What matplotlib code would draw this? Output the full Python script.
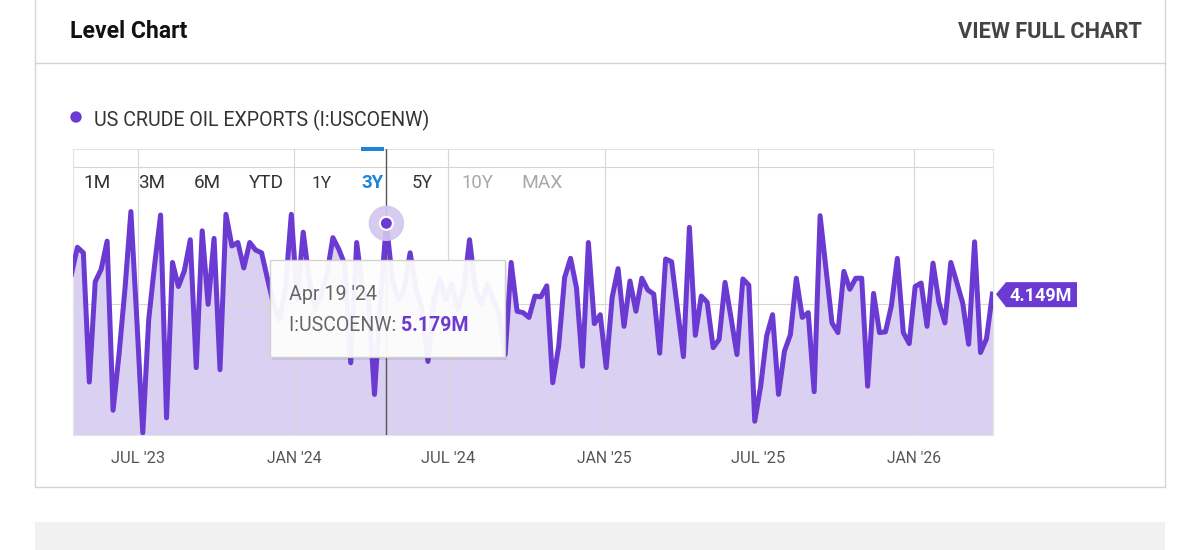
import matplotlib
matplotlib.use('Agg')
import matplotlib.pyplot as plt
import matplotlib.dates as mdates
from matplotlib import font_manager
from matplotlib.patches import Rectangle, Polygon, Ellipse
import datetime as dt

# ---------------- data ----------------
series_name = "US CRUDE OIL EXPORTS (I:USCOENW)"
series_code = "I:USCOENW"
start_date = dt.date(2023, 4, 14)          # weekly (Fridays)
values = [
    4.44, 4.83, 4.75, 2.87, 4.33, 4.51, 4.92, 2.46, 3.27, 4.22,
    5.35, 3.78, 2.13, 3.78, 4.58, 5.30, 2.35, 4.61, 4.26, 4.49,
    4.94, 3.08, 5.07, 4.00, 4.96, 3.05, 5.31, 4.85, 4.90, 4.53,
    4.90, 4.79, 4.75, 4.37, 4.00, 3.78, 4.22, 5.31, 4.07, 5.05,
    4.37, 3.93, 4.15, 4.44, 4.97, 4.80, 4.58, 3.15, 4.90, 4.22,
    4.07, 2.69, 4.07, 5.179, 4.37, 4.07, 4.22, 4.75, 4.22, 3.93,
    3.17, 4.07, 4.37, 4.07, 4.29, 3.93, 4.22, 4.94, 4.22, 4.00,
    4.29, 4.07, 3.85, 3.27, 4.61, 3.90, 3.88, 3.81, 4.12, 4.11,
    4.27, 2.86, 3.39, 4.39, 4.67, 4.24, 3.10, 4.90, 3.72, 3.85,
    3.08, 4.10, 4.52, 3.68, 4.34, 3.90, 4.38, 4.21, 4.15, 3.29,
    4.66, 4.62, 3.93, 3.24, 5.12, 3.55, 4.12, 4.03, 3.37, 3.49,
    4.32, 3.81, 3.27, 4.37, 4.28, 2.30, 2.81, 3.54, 3.85, 2.69,
    3.32, 3.56, 4.38, 3.81, 3.88, 2.73, 5.29, 4.51, 3.73, 3.59,
    4.48, 4.22, 4.38, 4.38, 2.81, 4.16, 3.59, 3.60, 3.98, 4.67,
    3.59, 3.43, 4.26, 4.31, 3.68, 4.60, 4.03, 3.73, 4.61, 4.32,
    4.02, 3.42, 4.91, 3.30, 3.50, 4.149,
]
dates = [start_date + dt.timedelta(weeks=i) for i in range(len(values))]
hover_index = 53   # Apr 19 '24
tick_dates = [dt.date(2023, 7, 1), dt.date(2024, 1, 1), dt.date(2024, 7, 1),
              dt.date(2025, 1, 1), dt.date(2025, 7, 1), dt.date(2026, 1, 1)]
tick_labels = ["JUL '23", "JAN '24", "JUL '24", "JAN '25", "JUL '25", "JAN '26"]
y_gridlines = [4, 6]
range_buttons = ["1M", "3M", "6M", "YTD", "1Y", "3Y", "5Y", "10Y", "MAX"]
active_button = "3Y"
disabled_buttons = ["10Y", "MAX"]

# ---------------- style ----------------
W, H = 1200, 550
PURPLE = '#6a3ad2'
FILL = '#dad0f1'
BLUE = '#1c84dc'
avail = {f.name for f in font_manager.fontManager.ttflist}
COND = 'Liberation Sans Narrow' if 'Liberation Sans Narrow' in avail else 'Roboto'

fig = plt.figure(figsize=(W / 100, H / 100), dpi=100)
fig.patch.set_facecolor('white')
renderer = fig.canvas.get_renderer()


def fx(x):
    return x / W


def fy(y):
    return 1 - y / H


def fit_text(x, y, s, width, ha='left', va='baseline', size0=12, **kw):
    t = fig.text(fx(x), fy(y), s, fontsize=size0, ha=ha, va=va, **kw)
    w = t.get_window_extent(renderer).width
    t.set_fontsize(size0 * width / w)
    return t


def circle(xp, yp, r, **kw):
    # xp, yp in figure pixels measured from the bottom-left
    fig.add_artist(Ellipse((xp / W, yp / H), 2 * r / W, 2 * r / H,
                           transform=fig.transFigure, **kw))


# card frame
fig.patches.append(Rectangle((fx(35), fy(487)), fx(1130), 1.02 - fy(487), transform=fig.transFigure,
                             facecolor='none', edgecolor='#d9d4cf', lw=1.0, zorder=0))
fig.add_artist(plt.Line2D([fx(35), fx(1165)], [fy(63), fy(63)], transform=fig.transFigure,
                          color='#d9d4cf', lw=1.0))
fig.patches.append(Rectangle((fx(35), fy(550)), fx(1130), fy(522) - fy(550), transform=fig.transFigure,
                             facecolor='#f1f1f1', edgecolor='none', zorder=0))

# header
fit_text(70, 38, "Level Chart", 117, family=COND, fontweight='bold', color='#111111')
fit_text(1142, 38, "VIEW FULL CHART", 184, ha='right', family=COND, fontweight='bold', color='#444444')

# legend
circle(76, H - 117, 5, color=PURPLE)
fit_text(94, 126, series_name, 334, family=COND, color='#333333')

# ---------------- plot ----------------
L, R, T, B = 73, 993, 149, 435
ax = fig.add_axes([fx(L), fy(B), (R - L) / W, (B - T) / H])
ax.set_facecolor('white')
ymin, ymax = 2.10, 6.26
ax.fill_between(dates, values, ymin, color=FILL, lw=0, zorder=1)
ax.plot(dates, values, color=PURPLE, lw=3.6, solid_joinstyle='round', zorder=4)
ax.set_ylim(ymin, ymax)
x0 = mdates.date2num(dt.date(2023, 7, 1)) - 76.2
x1 = mdates.date2num(dt.date(2026, 1, 1)) + 92.7
ax.set_xlim(x0, x1)
ax.set_xticks([mdates.date2num(d) for d in tick_dates])
ax.set_xticklabels([])
ax.set_yticks(y_gridlines)
ax.set_yticklabels([])
ax.tick_params(length=0)
ax.grid(True, color='#d6d6d6', lw=0.8, zorder=2)
ax.set_axisbelow(False)
for sp in ax.spines.values():
    sp.set_color('#e4e4e4')
    sp.set_linewidth(0.8)
    sp.set_zorder(2)

# x tick labels
for d, lab in zip(tick_dates, tick_labels):
    xd = ax.transData.transform((mdates.date2num(d), ymin))[0]
    fit_text(xd, 463, lab, 54, ha='center', family=COND, color='#555555')

# range buttons
btn_x = [97, 152, 207, 266, 322, 372, 422, 477, 542]
btn_w = [27, 27, 27, 35, 20, 22, 21, 32, 41]
for lab, xb, wb in zip(range_buttons, btn_x, btn_w):
    col = '#333333'
    wt = 'normal'
    if lab == active_button:
        col, wt = BLUE, 'bold'
    elif lab in disabled_buttons:
        col = '#a8a8a8'
    fit_text(xb, 188, lab, wb, ha='center', family=COND, color=col, fontweight=wt)
fig.patches.append(Rectangle((fx(361), fy(151)), 23 / W, 4 / H, transform=fig.transFigure,
                             facecolor=BLUE, edgecolor='none', zorder=5))

# hover cursor and point
hx = mdates.date2num(dates[hover_index])
ax.axvline(hx, color='#555555', lw=1.0, zorder=3)
hpx, hpy = ax.transData.transform((hx, values[hover_index]))
circle(hpx, hpy, 17, color='#d3c7ee', alpha=0.9, zorder=5)
circle(hpx, hpy, 6.5, facecolor=PURPLE, edgecolor='white', lw=1.5, zorder=6)

# tooltip
tx0, ty0, tx1, ty1 = 270, 260, 505, 357
fig.patches.append(Rectangle((fx(tx0 + 2), fy(ty1 + 3)), (tx1 - tx0) / W, (ty1 - ty0) / H,
                             transform=fig.transFigure, facecolor='#000000', alpha=0.08,
                             edgecolor='none', zorder=7))
fig.patches.append(Rectangle((fx(tx0), fy(ty1)), (tx1 - tx0) / W, (ty1 - ty0) / H,
                             transform=fig.transFigure, facecolor='white', alpha=0.94,
                             edgecolor='#cfcfcf', lw=1.0, zorder=8))
hd = dates[hover_index]
date_str = hd.strftime("%b %d '%y").replace(" 0", " ")
t1 = fit_text(289, 300, date_str, 87, family=COND, color='#666666', zorder=9)
t2 = fit_text(289, 331, series_code + ": ", 112, family=COND, color='#666666', zorder=9)
w2 = t2.get_window_extent(renderer).width
fig.text(fx(289 + w2), fy(331), f"{values[hover_index]:.3f}M", fontsize=t2.get_fontsize(),
         family=COND, fontweight='bold', color=PURPLE, ha='left', va='baseline', zorder=9)

# last value tag
lx, ly = ax.transData.transform((mdates.date2num(dates[-1]), values[-1]))
ly = H - ly
tag = Polygon([(fx(996), fy(ly)), (fx(1006), fy(ly - 12)), (fx(1077), fy(ly - 12)),
               (fx(1077), fy(ly + 13)), (fx(1006), fy(ly + 13))], closed=True,
              transform=fig.transFigure, facecolor=PURPLE, edgecolor='none', zorder=5)
fig.patches.append(tag)
fit_text(1041, ly + 7, f"{values[-1]:.3f}M", 62, ha='center', family=COND, fontweight='bold',
         color='white', zorder=6)

fig.savefig('out.png', dpi=100, facecolor='white')
